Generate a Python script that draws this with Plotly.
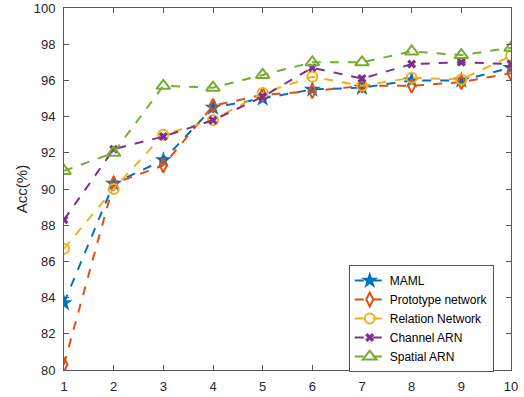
import plotly.graph_objects as go

x = [1, 2, 3, 4, 5, 6, 7, 8, 9, 10]
maml = [83.7, 90.3, 91.6, 94.5, 95.0, 95.5, 95.6, 96.0, 96.0, 96.7]
proto = [80.3, 90.3, 91.3, 94.6, 95.2, 95.4, 95.7, 95.7, 95.9, 96.4]
relation = [86.7, 90.0, 93.0, 93.8, 95.3, 96.2, 95.7, 96.15, 96.05, 97.35]
channel = [88.3, 92.2, 92.9, 93.8, 95.1, 96.7, 96.1, 96.9, 97.0, 96.9]
spatial = [91.0, 92.0, 95.7, 95.6, 96.3, 97.0, 97.0, 97.6, 97.4, 97.8]

names = ["MAML", "Prototype network", "Relation Network", "Channel ARN", "Spatial ARN"]
colors = ["#0072BD", "#D95319", "#EDB120", "#7E2F8E", "#77AC30"]
symbols = ["star", "diamond-tall-open", "circle-open", "x", "triangle-up-open"]
sizes = [13, 10, 10, 8, 12]
series = [maml, proto, relation, channel, spatial]

fig = go.Figure()
for n, c, s, sz, y in zip(names, colors, symbols, sizes, series):
    fig.add_trace(go.Scatter(
        x=x, y=y, name=n, mode="lines+markers",
        line=dict(color=c, width=2, dash="dash"),
        marker=dict(symbol=s, size=sz, color=c, line=dict(color=c, width=2 if "open" in s else 0)),
    ))

axis_common = dict(
    showline=True, linecolor="#555555", linewidth=1, mirror="ticks",
    ticks="inside", ticklen=5, tickcolor="#555555", showgrid=False, zeroline=False,
    tickfont=dict(family="Liberation Sans, Arial", size=13, color="#262626"),
    automargin=False,
)
fig.update_layout(
    width=524, height=397,
    margin=dict(l=64, r=13, t=8, b=27),
    paper_bgcolor="white", plot_bgcolor="white",
    showlegend=True,
    legend=dict(
        x=0.637, y=0.29, xanchor="left", yanchor="top",
        bgcolor="white", bordercolor="#555555", borderwidth=1,
        font=dict(family="Liberation Sans, Arial", size=12, color="#000000"),
        tracegroupgap=0, itemwidth=30,
    ),
    xaxis=dict(range=[1, 10], tickvals=x, ticklabelstandoff=4, **axis_common),
    yaxis=dict(range=[80, 100], tickvals=list(range(80, 101, 2)), ticklabelstandoff=5,
               title=dict(text="Acc(%)", font=dict(family="Liberation Sans, Arial", size=15, color="#262626"), standoff=2),
               **axis_common),
)
fig.write_html("out.html")
